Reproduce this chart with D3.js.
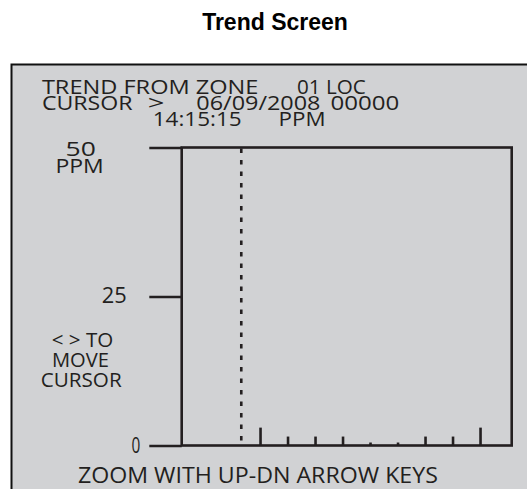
<!DOCTYPE html>
<html><head><meta charset="utf-8">
<script src="https://cdn.jsdelivr.net/npm/d3@7/dist/d3.min.js"></script>
<style>body{margin:0;background:#fff}svg{display:block}</style>
</head><body>
<svg id="chart" width="527" height="489"></svg>
<script>
// ---------- data ----------
const chartTitle = "Trend Screen";
const headerStrings = ["TREND FROM ZONE", "01 LOC", "CURSOR", ">", "06/09/2008", "00000", "14:15:15", "PPM"];
const sideStrings = ["< > TO", "MOVE", "CURSOR"];
const footerString = "ZOOM WITH UP-DN ARROW KEYS";
const yTickValues = [0, 25, 50];
const yTickLabels = ["0", "25", "50"];
const yUnitLabel = "PPM";
const yDomain = [0, 50];
const xDomain = [0, 360];
const trendTimes = [86, 116, 146, 176, 206, 236, 266, 296, 326];
const trendValues = [3, 1.5, 1.5, 1.5, 0.5, 0.5, 1.5, 1.5, 3];
const cursorTime = 65;

// ---------- layout ----------
const ink = "#231f20";
const panelFill = "#d1d2d4";
const plot = {left: 181.7, right: 511.7, top: 147.5, bottom: 445.5};
const tickLeft = 149.3;
const fontBody = "'Open Sans', 'Noto Sans', sans-serif";

const svg = d3.select("#chart");

// title
svg.append("text").attr("x", 275).attr("y", 29.5)
  .attr("text-anchor", "middle")
  .attr("font-family", "'Liberation Sans', Arial, sans-serif")
  .attr("font-weight", "bold").attr("font-size", 23)
  .attr("fill", "#000").text(chartTitle);

// panel
svg.append("rect").attr("x", 11.5).attr("y", 64.5)
  .attr("width", 600).attr("height", 500)
  .attr("fill", panelFill).attr("stroke", "#111").attr("stroke-width", 2);

const x = d3.scaleLinear().domain(xDomain).range([plot.left, plot.right]);
const y = d3.scaleLinear().domain(yDomain).range([plot.bottom, plot.top]);

// text helper (fits a string between x0 and x1)
function fitText(str, x0, x1, baseline, size) {
  svg.append("text").attr("x", x0).attr("y", baseline)
    .attr("font-family", fontBody).attr("font-size", size)
    .attr("fill", ink)
    .attr("textLength", x1 - x0).attr("lengthAdjust", "spacingAndGlyphs")
    .text(str);
}

// header
const headerLayout = [
  [41.9, 258.4, 93.8], [297, 365.8, 93.8],
  [41.9, 132.6, 109.8], [147.7, 164.4, 109.8], [196.3, 320.5, 109.8], [330.5, 399.3, 109.8],
  [152.7, 241.6, 125.8], [278.5, 325.5, 125.8]
];
headerStrings.forEach((s, i) => fitText(s, ...headerLayout[i], 19.5));

// side instruction
const sideLayout = [[51.7, 113.3, 347.3], [52, 109, 367.3], [40.7, 121.7, 387.3]];
sideStrings.forEach((s, i) => fitText(s, ...sideLayout[i], 20.5));

// footer
fitText(footerString, 77.9, 437.9, 483.2, 21.5);

// frame
svg.append("rect")
  .attr("x", plot.left).attr("y", plot.top)
  .attr("width", plot.right - plot.left).attr("height", plot.bottom - plot.top)
  .attr("fill", "none").attr("stroke", ink).attr("stroke-width", 2.6);

// y axis ticks
const yAxis = d3.axisLeft(y).tickValues(yTickValues)
  .tickSize(plot.left - tickLeft).tickSizeOuter(0).tickFormat("");
const gy = svg.append("g").attr("transform", `translate(${plot.left},0)`).call(yAxis);
gy.select(".domain").remove();
gy.selectAll(".tick line").attr("stroke", ink).attr("stroke-width", 2.6);

// y labels
const yLabelLayout = {
  0: [131.5, 140.3, 453.3, 21.5],
  25: [101.7, 126.7, 303.3, 21.5],
  50: [65.5, 95.8, 156.2, 19.5]
};
yTickValues.forEach((v, i) => fitText(yTickLabels[i], ...yLabelLayout[v]));
fitText(yUnitLabel, 55.4, 103.7, 173.3, 19.5);

// cursor
svg.append("line")
  .attr("x1", x(cursorTime)).attr("x2", x(cursorTime))
  .attr("y1", plot.top + 1).attr("y2", plot.bottom)
  .attr("stroke", ink).attr("stroke-width", 2.6)
  .attr("stroke-dasharray", "4.5,7");

// trend bars
svg.append("g").selectAll("line").data(trendTimes).join("line")
  .attr("x1", d => x(d)).attr("x2", d => x(d))
  .attr("y1", y(0)).attr("y2", (d, i) => y(trendValues[i]))
  .attr("stroke", ink).attr("stroke-width", 2.6);
</script>
</body></html>
